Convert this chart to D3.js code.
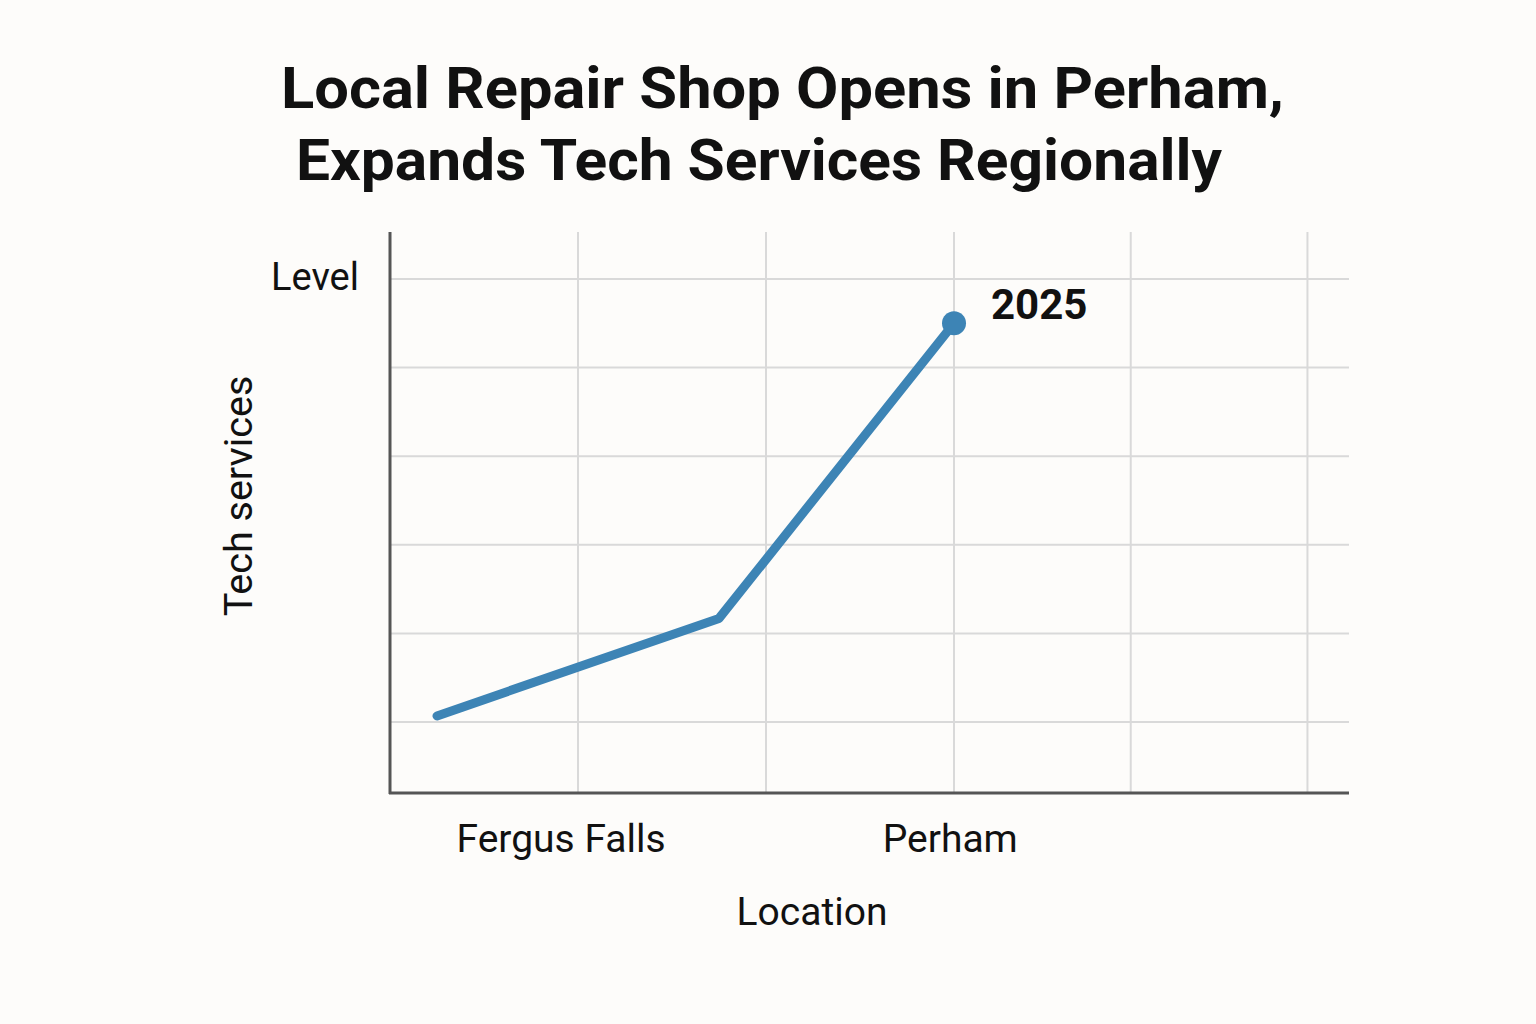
<!DOCTYPE html>
<html><head><meta charset="utf-8">
<script src="https://cdn.jsdelivr.net/npm/d3@7"></script>
<style>html,body{margin:0;padding:0;background:#fdfcfa;}</style>
</head><body>
<svg id="c" width="1536" height="1024"></svg>
<script>
const titleLines = ["Local Repair Shop Opens in Perham,", "Expands Tech Services Regionally"];
const xTickLabels = ["Fergus Falls", "Perham"];
const xTickPositions = [0.91, 2.98];
const xGridValues = [1, 2, 3, 3.94, 4.88];
const yGridValues = [1, 2, 3, 4, 5, 6];
const seriesX = [0.25, 1.75, 3.0];
const seriesY = [1.07, 2.17, 5.5];
const pointLabel = "2025";
const yAxisTitle = "Tech services";
const yTopLabel = "Level";
const xAxisTitle = "Location";

const svg = d3.select("#c");
svg.append("rect").attr("width",1536).attr("height",1024).attr("fill","#fdfcfa");

const x = d3.scaleLinear().domain([0, 5.101]).range([390, 1349]);
const y = d3.scaleLinear().domain([0.2, 6.53]).range([793, 232]);
const FF = "Roboto, 'Liberation Sans', sans-serif";

// title
const tl = [{t:titleLines[0], x:281, y:108, w:1003},{t:titleLines[1], x:296, y:180, w:926}];
svg.selectAll("text.title").data(tl).enter().append("text")
  .attr("class","title").attr("x",d=>d.x).attr("y",d=>d.y)
  .attr("textLength",d=>d.w).attr("lengthAdjust","spacingAndGlyphs")
  .style("font-family",FF).style("font-weight","bold")
  .style("font-size","58px").attr("fill","#111").text(d=>d.t);

// grid
svg.append("g").selectAll("line").data(xGridValues).enter().append("line")
  .attr("x1",d=>x(d)).attr("x2",d=>x(d)).attr("y1",232).attr("y2",793)
  .attr("stroke","#d9d9d9").attr("stroke-width",2);
svg.append("g").selectAll("line").data(yGridValues).enter().append("line")
  .attr("x1",390).attr("x2",1349).attr("y1",d=>y(d)).attr("y2",d=>y(d))
  .attr("stroke","#d9d9d9").attr("stroke-width",2);

// axes
svg.append("line").attr("x1",390).attr("x2",390).attr("y1",232).attr("y2",794)
  .attr("stroke","#555").attr("stroke-width",3);
svg.append("line").attr("x1",389).attr("x2",1349).attr("y1",793).attr("y2",793)
  .attr("stroke","#555").attr("stroke-width",3);

// x tick labels
svg.selectAll("text.xt").data(xTickLabels).enter().append("text")
  .attr("class","xt").attr("x",(d,i)=>x(xTickPositions[i])).attr("y",852)
  .attr("text-anchor","middle")
  .style("font-family",FF).style("font-size","39px")
  .attr("fill","#111").text(d=>d);

svg.append("text").attr("x",812).attr("y",925).attr("text-anchor","middle")
  .style("font-family",FF).style("font-size","39px")
  .attr("fill","#111").text(xAxisTitle);

svg.append("text").attr("x",315).attr("y",290).attr("text-anchor","middle")
  .style("font-family",FF).style("font-size","38px")
  .attr("fill","#111").text(yTopLabel);

svg.append("text").attr("transform","translate(252,496) rotate(-90)").attr("text-anchor","middle")
  .style("font-family",FF).style("font-size","39.5px")
  .attr("fill","#111").text(yAxisTitle);

// line
const pts = seriesX.map((v,i)=>[v, seriesY[i]]);
svg.append("path").datum(pts)
  .attr("d", d3.line().x(d=>x(d[0])).y(d=>y(d[1])))
  .attr("fill","none").attr("stroke","#3d84b5").attr("stroke-width",9)
  .attr("stroke-linecap","round").attr("stroke-linejoin","round");

const last = pts[pts.length-1];
svg.append("circle").attr("cx",x(last[0])).attr("cy",y(last[1])).attr("r",12).attr("fill","#3d84b5");

svg.append("text").attr("x",x(last[0])+37).attr("y",y(last[1])-4)
  .style("font-family",FF).style("font-weight","bold")
  .style("font-size","42px").attr("fill","#111").text(pointLabel);
</script>
</body></html>
